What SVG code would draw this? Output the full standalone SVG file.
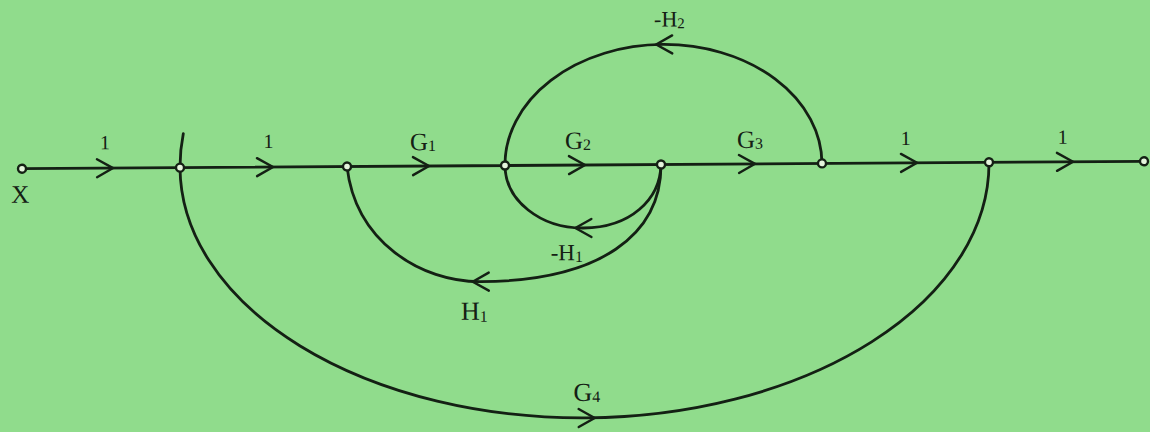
<svg xmlns="http://www.w3.org/2000/svg" xmlns:xlink="http://www.w3.org/1999/xlink" width="1150" height="432" viewBox="0 0 1150 432">
<style>
.bg{fill:#90dc8c}
.ln{fill:none;stroke:#142014;stroke-width:2.8;stroke-linecap:round;stroke-linejoin:round}
.ar{fill:none;stroke:#142014;stroke-width:2.4;stroke-linecap:round;stroke-linejoin:miter}
.nd{fill:#e4f4dc;stroke:#142014;stroke-width:2.4}
.lbl{font-family:"Liberation Serif","Times New Roman",serif;font-size:25px;fill:#142014}
.one{font-family:"Liberation Serif","Times New Roman",serif;font-size:20px;fill:#142014}
.sub{font-size:16px}
</style>
<defs>
<path id="chev" d="M-16,-9 L0,0 L-16,9"/>
</defs>
<rect class="bg" x="0" y="0" width="1150" height="432"/>
<g transform="rotate(-0.38 583 165)">
<g id="connectors">
<path class="ln" d="M22,165 L1144,165"/>
<path class="ln" d="M183.5,131 Q180,148 180,165 A404.5,253 0 0 0 989,165"/>
<path class="ln" d="M822,165 A158.5,120 0 0 0 505,165"/>
<path class="ln" d="M661,165 C660,200 630,228 583,228 C540,228 505,200 505,165"/>
<path class="ln" d="M661,165 C661,235 600,281 480,281 C420,281 355,240 347,165"/>
<use xlink:href="#chev" class="ar" transform="translate(113,165)"/>
<use xlink:href="#chev" class="ar" transform="translate(273,165)"/>
<use xlink:href="#chev" class="ar" transform="translate(429,165)"/>
<use xlink:href="#chev" class="ar" transform="translate(585,165)"/>
<use xlink:href="#chev" class="ar" transform="translate(755,165)"/>
<use xlink:href="#chev" class="ar" transform="translate(917,165)"/>
<use xlink:href="#chev" class="ar" transform="translate(1073,165)"/>
<use xlink:href="#chev" class="ar" transform="translate(657,45) rotate(180)"/>
<use xlink:href="#chev" class="ar" transform="translate(575,228) rotate(180)"/>
<use xlink:href="#chev" class="ar" transform="translate(472,281) rotate(180)"/>
<use xlink:href="#chev" class="ar" transform="translate(593,418)"/>
<text class="one" x="105" y="146" text-anchor="middle">1</text>
<text class="one" x="268.5" y="146" text-anchor="middle">1</text>
<text class="lbl" x="410" y="149">G<tspan class="sub" dy="1">1</tspan></text>
<text class="lbl" x="565" y="149">G<tspan class="sub" dy="1">2</tspan></text>
<text class="lbl" x="737" y="149">G<tspan class="sub" dy="1">3</tspan></text>
<text class="one" x="906" y="147" text-anchor="middle">1</text>
<text class="one" x="1063" y="147" text-anchor="middle">1</text>
<text class="lbl" x="655" y="27" style="font-size:22px">-H<tspan class="sub" dy="2" style="font-size:15px">2</tspan></text>
<text class="lbl" x="550" y="260" style="font-size:23px">-H<tspan class="sub" dy="2">1</tspan></text>
<text class="lbl" x="460" y="319" style="font-size:26px">H<tspan class="sub" dy="2">1</tspan></text>
<text class="lbl" x="572" y="401" style="font-size:26px">G<tspan class="sub" dy="1">4</tspan></text>
</g>
<g id="n_X"><circle class="nd" cx="22" cy="165" r="4"/><text class="lbl" x="20" y="199" text-anchor="middle">X</text></g>
<g id="n1"><circle class="nd" cx="180" cy="165" r="4"/></g>
<g id="n2"><circle class="nd" cx="347" cy="165" r="4"/></g>
<g id="n3"><circle class="nd" cx="505" cy="165" r="4"/></g>
<g id="n4"><circle class="nd" cx="661" cy="165" r="4"/></g>
<g id="n5"><circle class="nd" cx="822" cy="165" r="4"/></g>
<g id="n6"><circle class="nd" cx="989" cy="165" r="4"/></g>
<g id="n7"><circle class="nd" cx="1144" cy="165" r="4"/></g>
</g>
</svg>
